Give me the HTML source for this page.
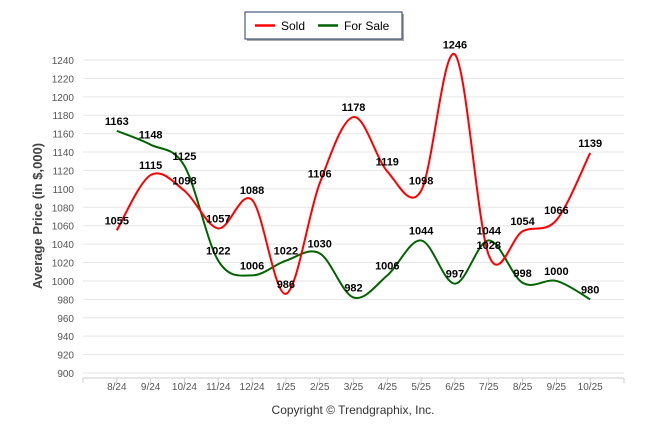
<!DOCTYPE html>
<html><head><meta charset="utf-8"><style>
body{margin:0;background:#fff;font-family:"Liberation Sans",sans-serif;}
svg text{font-family:"Liberation Sans",sans-serif;}
</style></head><body>
<svg id="c" width="646" height="434">
<g>
<rect x="247" y="14" width="157" height="27" fill="#555" opacity="0.5"/>
<rect x="245" y="12" width="157" height="27" fill="#fff" stroke="#1f3864" stroke-width="1"/>
<line x1="255" y1="25.5" x2="275" y2="25.5" stroke="#f00" stroke-width="2.5"/>
<text x="281" y="30" font-size="12">Sold</text>
<line x1="318" y1="25.5" x2="338" y2="25.5" stroke="#006400" stroke-width="2.5"/>
<text x="344" y="30" font-size="12">For Sale</text>
</g>
<text transform="translate(42,216) rotate(-90)" text-anchor="middle" font-size="13" font-weight="bold" fill="#444">Average Price (in $,000)</text>
<text x="353" y="414" text-anchor="middle" font-size="12" fill="#333">Copyright © Trendgraphix, Inc.</text>
<g id="grid"></g><g id="lines"></g><g id="labels"></g>
</svg>
<script>
const categories=["8/24","9/24","10/24","11/24","12/24","1/25","2/25","3/25","4/25","5/25","6/25","7/25","8/25","9/25","10/25"];
const sold=[1055,1115,1098,1057,1088,986,1106,1178,1119,1098,1246,1028,1054,1066,1139];
const forSale=[1163,1148,1125,1022,1006,1022,1030,982,1006,1044,997,1044,998,1000,980];
const yTicks=[900,920,940,960,980,1000,1020,1040,1060,1080,1100,1120,1140,1160,1180,1200,1220,1240];
const NS="http://www.w3.org/2000/svg";
const x0=83,x1=624,yTop=60,yBot=373;
const X=i=>x0+(i+1)*(x1-x0)/(categories.length+1);
const Y=v=>yBot-(v-900)/(1240-900)*(yBot-yTop);
function mk(t,a,p){const e=document.createElementNS(NS,t);for(const k in a)e.setAttribute(k,a[k]);p.appendChild(e);return e;}
const g=document.getElementById('grid');
yTicks.forEach(v=>{
 const l=mk('line',{x1:x0,x2:x1,y1:Y(v),y2:Y(v),stroke:'#e6e6e6'},g);
 
 
 const t=mk('text',{x:74,y:Y(v)+4,'text-anchor':'end','font-size':'10',fill:'#555'},g);t.textContent=v;
 
 
});
mk('line',{x1:x0,x2:x1,y1:yBot+5,y2:yBot+5,stroke:'#ccc'},g);
for(let i=0;i<=categories.length+1;i++){mk('line',{x1:x0+i*(x1-x0)/(categories.length+1),x2:x0+i*(x1-x0)/(categories.length+1),y1:yBot+5,y2:yBot+10,stroke:'#ccc'},g);}
categories.forEach((c,i)=>{const t=mk('text',{x:X(i),y:yBot+17,'text-anchor':'middle','font-size':'10',fill:'#555'},g);t.textContent=c;
 
 });
function path(vals){
 const p=vals.map((v,i)=>[X(i),Y(v)]);let d=`M${p[0][0]},${p[0][1]}`;
 for(let i=0;i<p.length-1;i++){const a=p[i-1]||p[i],b=p[i],c=p[i+1],e=p[i+2]||c;
  d+=` C${b[0]+(c[0]-a[0])/6},${b[1]+(c[1]-a[1])/6} ${c[0]-(e[0]-b[0])/6},${c[1]-(e[1]-b[1])/6} ${c[0]},${c[1]}`;}
 return d;}
const L=document.getElementById('lines'),T=document.getElementById('labels');
[[forSale,'#006400','for-sale'],[sold,'#f00','sold']].forEach(([vals,col,n])=>{
 const p=mk('path',{d:path(vals),fill:'none',stroke:col,'stroke-width':2},L);
 
 
 vals.forEach((v,i)=>{const t=mk('text',{x:X(i),y:Y(v)-6,'text-anchor':'middle','font-size':'11','font-weight':'bold',fill:'#000'},T);t.textContent=v;
  
  });
});
</script>
</body></html>
